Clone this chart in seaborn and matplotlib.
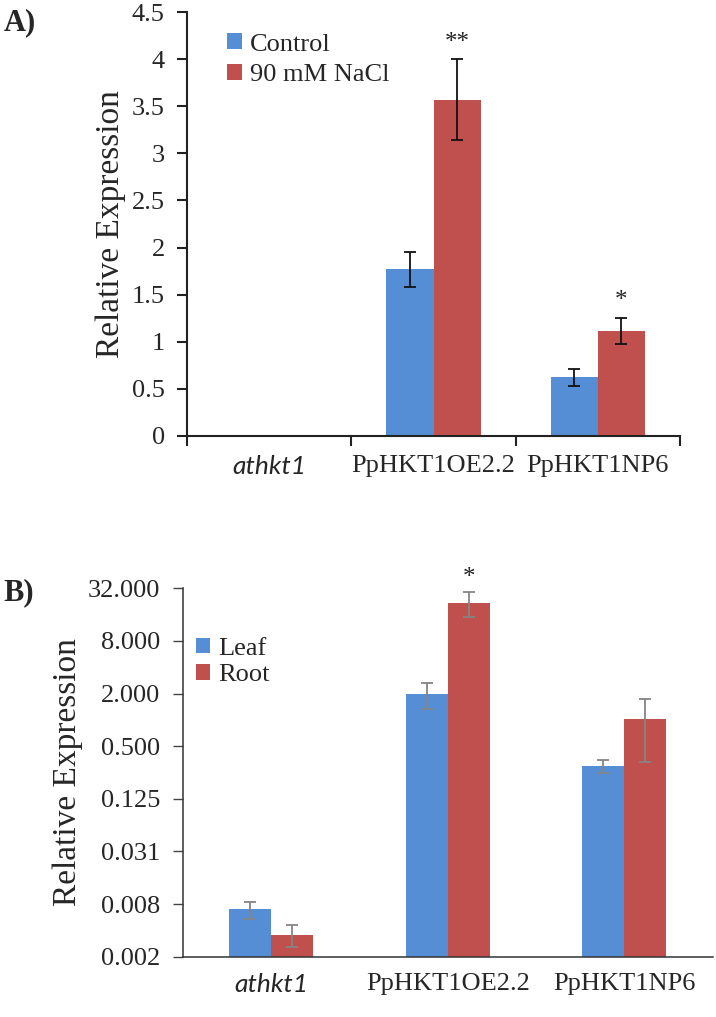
import numpy as np
import pandas as pd
import matplotlib
matplotlib.use("Agg")
import matplotlib.pyplot as plt
import seaborn as sns
from matplotlib.ticker import FixedLocator

sns.set_style("white")
plt.rcParams['font.family'] = ['Liberation Serif', 'DejaVu Serif']

# ---------------- data ----------------
lines = ["athkt1", "PpHKT1OE2.2", "PpHKT1NP6"]

# Panel A
a_groups = ["Control", "90 mM NaCl"]
a_control = [0.0, 1.77, 0.62]
a_control_err = [0.0, 0.185, 0.09]
a_nacl = [0.0, 3.57, 1.11]
a_nacl_err = [0.0, 0.43, 0.14]
a_sig = ["", "**", "*"]          # above NaCl bars

# Panel B
b_groups = ["Leaf", "Root"]
b_leaf = [0.0068, 2.0, 0.30]
b_leaf_err = [0.0015, 0.67, 0.05]
b_root = [0.0035, 22.0, 1.03]
b_root_err = [0.001, 7.0, 0.70]
b_sig = ["", "*", ""]            # above Root bars

a_yticks = [0, 0.5, 1, 1.5, 2, 2.5, 3, 3.5, 4, 4.5]
b_yticks = [2.0 ** p for p in range(-9, 6, 2)]
b_yticklabels = ["0.002", "0.008", "0.031", "0.125", "0.500", "2.000", "8.000", "32.000"]

BLUE = "#558ED5"
RED = "#C0504D"

TICK_FS = 19
YLAB_FS = 24

dfA = pd.DataFrame({
    "line": lines * 2,
    "group": [a_groups[0]] * 3 + [a_groups[1]] * 3,
    "value": a_control + a_nacl,
    "err": a_control_err + a_nacl_err,
})
dfB = pd.DataFrame({
    "line": lines * 2,
    "group": [b_groups[0]] * 3 + [b_groups[1]] * 3,
    "value": b_leaf + b_root,
    "err": b_leaf_err + b_root_err,
})

fig = plt.figure(figsize=(7.16, 10.17), dpi=100)
axA = fig.add_axes([0.2612, 0.5716, 0.6885, 0.4163])
axB = fig.add_axes([0.2552, 0.0593, 0.7402, 0.3622])

# ---------------- Panel A ----------------
sns.barplot(data=dfA, x="line", y="value", hue="group", order=lines,
            hue_order=a_groups, palette=[BLUE, RED], width=0.575, gap=0,
            errorbar=None, saturation=1, ax=axA, linewidth=0)
axA.set_ylim(0, 4.5)
axA.set_xlim(-0.5, 2.5)
axA.yaxis.set_major_locator(FixedLocator(a_yticks))
axA.set_yticklabels([f"{t:g}" for t in a_yticks])
for cont, errs in zip(axA.containers, [a_control_err, a_nacl_err]):
    for patch, e in zip(cont.patches, errs):
        h = patch.get_height()
        if h <= 0:
            continue
        xc = patch.get_x() + patch.get_width() / 2
        axA.errorbar(xc, h, yerr=e, fmt="none", ecolor="#111111",
                     elinewidth=1.3, capsize=4, capthick=1.3, zorder=5)
for patch, e, s in zip(axA.containers[1].patches, a_nacl_err, a_sig):
    if s:
        xc = patch.get_x() + patch.get_width() / 2
        axA.text(xc, patch.get_height() + e + 0.06, s, ha="center", va="bottom",
                 fontsize=18, color="#222222")

axA.set_xlabel("")
axA.set_ylabel("Relative Expression", fontsize=YLAB_FS, labelpad=4)
axA.tick_params(axis="y", direction="out", length=7, width=1.5, labelsize=TICK_FS,
                left=True, color="#222222", pad=9)
axA.tick_params(axis="x", which="major", length=0, labelsize=TICK_FS, pad=14)
axA.set_xticks([-0.5, 0.5, 1.5, 2.5], minor=True)
axA.tick_params(axis="x", which="minor", direction="out", length=7, width=1.5,
                bottom=True, color="#222222")
for lab in axA.get_xticklabels():
    if lab.get_text() == "athkt1":
        lab.set_fontfamily(["Lato", "DejaVu Sans"])
        lab.set_fontstyle("italic")
sns.despine(ax=axA)
for sp in ["left", "bottom"]:
    axA.spines[sp].set_linewidth(1.5)
    axA.spines[sp].set_color("#222222")
axA.legend(loc="upper left", bbox_to_anchor=(0.06, 0.975), frameon=False,
           fontsize=TICK_FS, handlelength=0.55, handleheight=0.55,
           handletextpad=0.3, labelspacing=0.3, borderaxespad=0)
fig.text(0.005, 0.978, "A)", fontsize=22, fontweight="bold", va="center")

# ---------------- Panel B ----------------
axB.set_yscale("log", base=2)
sns.barplot(data=dfB, x="line", y="value", hue="group", order=lines,
            hue_order=b_groups, palette=[BLUE, RED], width=0.475, gap=0,
            errorbar=None, saturation=1, ax=axB, linewidth=0)
axB.set_yscale("log", base=2)
axB.set_ylim(2.0 ** -9, 2.0 ** 5)
axB.set_xlim(-0.5, 2.5)
axB.yaxis.set_major_locator(FixedLocator(b_yticks))
axB.yaxis.set_minor_locator(FixedLocator([]))
axB.set_yticklabels(b_yticklabels)
for cont, errs in zip(axB.containers, [b_leaf_err, b_root_err]):
    for patch, e in zip(cont.patches, errs):
        h = patch.get_height()
        xc = patch.get_x() + patch.get_width() / 2
        axB.errorbar(xc, h, yerr=e, fmt="none", ecolor="#858585",
                     elinewidth=1.3, capsize=4, capthick=1.3, zorder=5)
for patch, e, s in zip(axB.containers[1].patches, b_root_err, b_sig):
    if s:
        xc = patch.get_x() + patch.get_width() / 2
        axB.text(xc, (patch.get_height() + e) * 1.08, s, ha="center", va="bottom",
                 fontsize=18, color="#222222")

axB.set_xlabel("")
axB.set_ylabel("Relative Expression", fontsize=YLAB_FS, labelpad=4)
axB.tick_params(axis="y", which="major", direction="out", length=7, width=1,
                labelsize=TICK_FS, left=True, color="#444444", pad=9)
axB.tick_params(axis="x", length=0, labelsize=TICK_FS, pad=12)
for lab in axB.get_xticklabels():
    if lab.get_text() == "athkt1":
        lab.set_fontfamily(["Lato", "DejaVu Sans"])
        lab.set_fontstyle("italic")
sns.despine(ax=axB)
for sp in ["left", "bottom"]:
    axB.spines[sp].set_linewidth(1.1)
    axB.spines[sp].set_color("#333333")
axB.legend(loc="upper left", bbox_to_anchor=(0.005, 0.895), frameon=False,
           fontsize=TICK_FS, handlelength=0.55, handleheight=0.55,
           handletextpad=0.3, labelspacing=0.15, borderaxespad=0)
fig.text(0.005, 0.417, "B)", fontsize=22, fontweight="bold", va="center")

fig.savefig("out.png", dpi=100)
